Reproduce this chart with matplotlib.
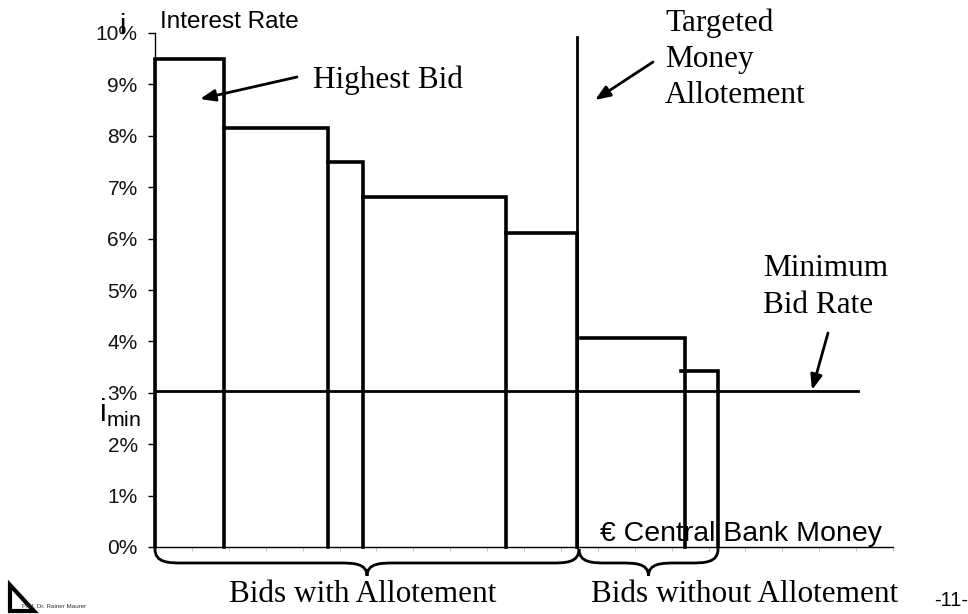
import matplotlib
matplotlib.use("Agg")
import matplotlib.pyplot as plt
from matplotlib.path import Path
from matplotlib.patches import PathPatch, Polygon

# ---- data ----
bid_left = [0.0, 1.86, 4.70, 5.65, 9.50, 11.54, 14.25]
bid_right = [1.86, 4.70, 5.65, 9.50, 11.44, 14.35, 15.27]
bid_rate = [9.50, 8.15, 7.49, 6.81, 6.11, 4.06, 3.42]
targeted_allotment = 11.44
targeted_top = 9.92
min_bid_rate = 3.03
min_bid_end = 19.05
y_ticks = [0, 1, 2, 3, 4, 5, 6, 7, 8, 9, 10]
y_tick_labels = ["0%", "1%", "2%", "3%", "4%", "5%", "6%", "7%", "8%", "9%", "10%"]

W, H = 968, 614
fig = plt.figure(figsize=(W / 100, H / 100), dpi=100)
x0, x1, y0, y1 = 155, 893, 547, 33
ax = fig.add_axes([x0 / W, (H - y0) / H, (x1 - x0) / W, (y0 - y1) / H])
ax.set_xlim(0, 20)
ax.set_ylim(0, 10)

for s in ["top", "right"]:
    ax.spines[s].set_visible(False)
ax.spines["left"].set_linewidth(1.0)
ax.spines["bottom"].set_linewidth(1.0)
ax.set_yticks(y_ticks)
ax.set_yticklabels(y_tick_labels, fontsize=15, family="Liberation Sans", color="#111111")
ax.tick_params(axis="y", direction="out", length=5, width=1, pad=7.5)
ax.set_xticks(range(0, 21))
ax.set_xticklabels([])
ax.tick_params(axis="x", direction="out", length=3, width=0.6, color="#bbbbbb")

serif = "Liberation Serif"
sans = "Liberation Sans"

# bars (outline steps)
for i, (l, r, h) in enumerate(zip(bid_left, bid_right, bid_rate)):
    if i == 0:
        xs, ys = [l, l, r, r], [0, h, h, 0]
    else:
        xs, ys = [l, r, r], [h, h, 0]
    ax.plot(xs, ys, color="black", lw=2.6, solid_joinstyle="miter", clip_on=False)

# targeted allotment line
ax.plot([targeted_allotment, targeted_allotment], [0, targeted_top], color="black", lw=2.0, clip_on=False)
# minimum bid rate line
ax.plot([0, min_bid_end], [min_bid_rate, min_bid_rate], color="black", lw=2.0, clip_on=False)

def px(x, y):
    return ((x - x0) / ((x1 - x0) / 20.0), (y0 - y) / ((y0 - y1) / 10.0))

arrow = dict(arrowstyle="-|>,head_length=0.9,head_width=0.35", color="black", lw=2.0, shrinkA=0, shrinkB=0)
ax.annotate("", xy=px(200, 99), xytext=px(297, 77), arrowprops=arrow, annotation_clip=False)
ax.annotate("", xy=px(595, 100), xytext=px(653, 62), arrowprops=arrow, annotation_clip=False)
ax.annotate("", xy=px(812, 390), xytext=px(828, 333), arrowprops=arrow, annotation_clip=False)

# texts
fig.text(160 / W, 1 - 22 / H, "Interest Rate", fontsize=17.5, family=sans, va="center", ha="left")
fig.text(122 / W, 1 - 26 / H, "i", fontsize=20, family=sans, va="center", ha="center")
fig.text(99 / W, 1 - 413 / H, r"$\mathregular{i_{min}}$", fontsize=22, family=sans, va="center", ha="left")
fig.text(313 / W, 1 - 80 / H, "Highest Bid", fontsize=22.5, family=serif, va="center", ha="left")
fig.text(665 / W, 1 - 59 / H, "Targeted\nMoney\nAllotement", fontsize=22.5, family=serif, va="center", ha="left", linespacing=1.32)
fig.text(763 / W, 1 - 287 / H, "Minimum\nBid Rate", fontsize=22.5, family=serif, va="center", ha="left", linespacing=1.32)
fig.text(600 / W, 1 - 534 / H, "€ Central Bank Money", fontsize=20.5, family=sans, va="center", ha="left")
fig.text(363 / W, 1 - 594 / H, "Bids with Allotement", fontsize=22.5, family=serif, va="center", ha="center")
fig.text(745 / W, 1 - 594 / H, "Bids without Allotement", fontsize=22.5, family=serif, va="center", ha="center")
fig.text(951 / W, 1 - 600 / H, "-11-", fontsize=14.5, family=sans, va="center", ha="center")

# curly braces under the axis (figure pixel coords -> fraction)
def brace(xa, xb, ytop=549, ymid=563, ytip=576):
    xm = (xa + xb) / 2.0
    r = 14
    verts = [
        (xa, ytop), (xa, ymid), (xa + r, ymid), (xa + 2 * r, ymid),
        (xm - 2 * r, ymid),
        (xm - r, ymid), (xm, ymid), (xm, ytip),
        (xm, ymid), (xm + r, ymid), (xm + 2 * r, ymid),
        (xb - 2 * r, ymid),
        (xb - r, ymid), (xb, ymid), (xb, ytop),
    ]
    codes = [Path.MOVETO, Path.CURVE4, Path.CURVE4, Path.CURVE4,
             Path.LINETO,
             Path.CURVE4, Path.CURVE4, Path.CURVE4,
             Path.CURVE4, Path.CURVE4, Path.CURVE4,
             Path.LINETO,
             Path.CURVE4, Path.CURVE4, Path.CURVE4]
    verts = [(vx / W, 1 - vy / H) for vx, vy in verts]
    fig.patches.append(PathPatch(Path(verts, codes), transform=fig.transFigure,
                                 facecolor="none", edgecolor="black", lw=2.0))

brace(155, 579)
brace(579, 718)

# logo
fig.text(22 / W, 1 - 607 / H, "Prof. Dr. Rainer Maurer", fontsize=4.5, family=sans, va="center", ha="left", color="#333333")
fig.patches.append(Polygon([(10 / W, 1 - 585 / H), (10 / W, 1 - 611 / H), (34 / W, 1 - 611 / H)],
                           closed=True, transform=fig.transFigure, facecolor="white",
                           edgecolor="black", lw=3, joinstyle="miter"))

fig.savefig("out.png", dpi=100)
